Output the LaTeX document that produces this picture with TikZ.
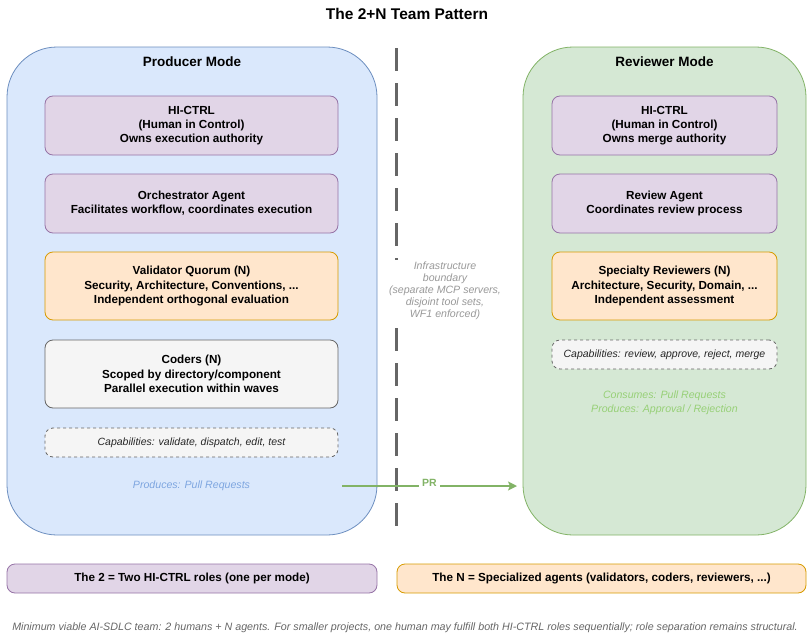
\documentclass[tikz,border=0pt]{standalone}
\usepackage{fontspec}
\setmainfont{Liberation Sans}
\usetikzlibrary{arrows.meta}
\definecolor{bluefill}{HTML}{DAE8FC}
\definecolor{bluedraw}{HTML}{6C8EBF}
\definecolor{greenfill}{HTML}{D5E8D4}
\definecolor{greendraw}{HTML}{82B366}
\definecolor{purplefill}{HTML}{E1D5E7}
\definecolor{purpledraw}{HTML}{9673A6}
\definecolor{orangefill}{HTML}{FFE6CC}
\definecolor{orangedraw}{HTML}{D79B00}
\definecolor{grayfill}{HTML}{F5F5F5}
\definecolor{graydraw}{HTML}{666666}
\definecolor{bluetext}{HTML}{7EA6E0}
\definecolor{greentext}{HTML}{97D077}
\definecolor{infratext}{HTML}{999999}
\definecolor{foottext}{HTML}{666666}
\begin{document}
\begin{tikzpicture}[x=1pt,y=-1pt,
  container/.style={draw, line width=0.8pt, rounded corners=50pt, inner sep=0pt, outer sep=0pt},
  box/.style={draw, line width=0.8pt, rounded corners=8pt, align=center, inner sep=0pt, outer sep=0pt,
    font=\fontsize{11.7}{14.2}\selectfont\bfseries},
  lbox/.style={box, minimum width=293pt},
  rbox/.style={box, minimum width=225pt},
  purplebox/.style={fill=purplefill, draw=purpledraw},
  orangebox/.style={fill=orangefill, draw=orangedraw},
  graybox/.style={fill=grayfill, draw=graydraw},
  capbox/.style={fill=grayfill, draw=graydraw, dashed, font=\fontsize{10.5}{12}\selectfont\itshape, text=black!85},
  heading/.style={font=\fontsize{13.5}{15}\selectfont\bfseries},
  note/.style={font=\fontsize{10.6}{14}\selectfont\itshape, align=center},
]
\useasboundingbox (0,0) rectangle (812,640);

\node[font=\fontsize{15.5}{17}\selectfont\bfseries] (title) at (407,14) {The 2+N Team Pattern};

% containers
\node[container, fill=bluefill, draw=bluedraw, minimum width=370pt, minimum height=488pt] (prod) at (192,291) {};
\node[container, fill=greenfill, draw=greendraw, minimum width=283pt, minimum height=488pt] (rev) at (664.5,291) {};
\node[heading] (prodh) at (192,62) {Producer Mode};
\node[heading] (revh) at (664.5,62) {Reviewer Mode};

% producer boxes
\node[lbox, purplebox, minimum height=59pt] (phi) at (191.5,125.5) {HI-CTRL\\(Human in Control)\\Owns execution authority};
\node[lbox, purplebox, minimum height=59pt] (porch) at (191.5,203.5) {Orchestrator Agent\\Facilitates workflow, coordinates execution};
\node[lbox, orangebox, minimum height=68pt] (pval) at (191.5,286) {Validator Quorum (N)\\Security, Architecture, Conventions, ...\\Independent orthogonal evaluation};
\node[lbox, graybox, minimum height=68pt] (pcod) at (191.5,374) {Coders (N)\\Scoped by directory/component\\Parallel execution within waves};
\node[lbox, capbox, minimum height=29pt] (pcap) at (191.5,442.5) {Capabilities: validate, dispatch, edit, test};
\node[note, text=bluetext] (pprod) at (191.5,486) {Produces: Pull Requests};

% reviewer boxes
\node[rbox, purplebox, minimum height=59pt] (rhi) at (664.5,125.5) {HI-CTRL\\(Human in Control)\\Owns merge authority};
\node[rbox, purplebox, minimum height=59pt] (ragent) at (664.5,203.5) {Review Agent\\Coordinates review process};
\node[rbox, orangebox, minimum height=68pt] (rspec) at (664.5,286) {Specialty Reviewers (N)\\Architecture, Security, Domain, ...\\Independent assessment};
\node[rbox, capbox, minimum height=29pt] (rcap) at (664.5,354.5) {Capabilities: review, approve, reject, merge};
\node[note, text=greentext] (rcons) at (664.5,403) {Consumes: Pull Requests\\Produces: Approval / Rejection};

% boundary
\coordinate (btop) at (396,48);
\coordinate (bbot) at (396,527);
\draw[line width=3pt, draw=graydraw, dash pattern=on 23pt off 12pt] (btop) -- (bbot);
\node[fill=white, inner sep=2pt, text=infratext, align=center, font=\fontsize{10.6}{12}\selectfont\itshape] (infra) at (445,291)
  {Infrastructure\\boundary\\(separate MCP servers,\\disjoint tool sets,\\WF1 enforced)};

% PR arrow
\coordinate (prstart) at (342,486);
\coordinate (prend) at (517,486);
\draw[line width=1.5pt, draw=greendraw, -{Stealth[length=9pt, width=9pt, inset=2pt]}] (prstart) -- (prend)
  node[midway, fill=white, inner sep=3pt, yshift=3pt, text=greendraw, font=\fontsize{10.5}{11}\selectfont\bfseries] (prlabel) {PR};

% legend
\node[box, purplebox, minimum width=370pt, minimum height=29pt] (leg2) at (192,578.5) {The 2 = Two HI-CTRL roles (one per mode)};
\node[box, orangebox, minimum width=409pt, minimum height=29pt] (legn) at (601.5,578.5) {The N = Specialized agents (validators, coders, reviewers, ...)};

\node[font=\fontsize{10.7}{12}\selectfont\itshape, text=foottext] (foot) at (405,628)
  {Minimum viable AI-SDLC team: 2 humans + N agents. For smaller projects, one human may fulfill both HI-CTRL roles sequentially; role separation remains structural.};
\end{tikzpicture}
\end{document}
